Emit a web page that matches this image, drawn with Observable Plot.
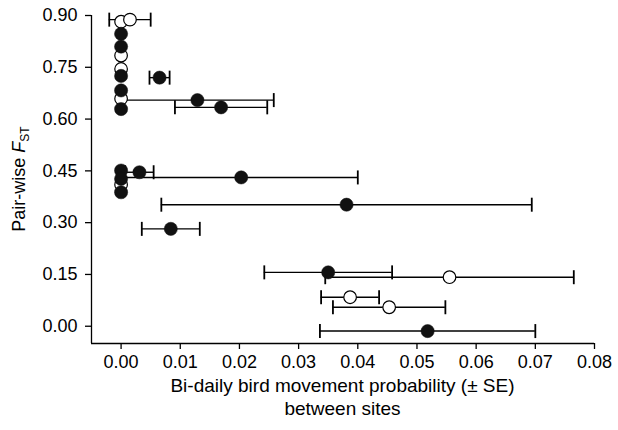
<!DOCTYPE html>
<html>
<head>
<meta charset="utf-8">
<script src="https://cdn.jsdelivr.net/npm/d3@7"></script>
<script src="https://cdn.jsdelivr.net/npm/@observablehq/plot@0.6"></script>
<style>
  html, body { margin: 0; padding: 0; background: #fff; }
  #chart svg { display: block; }
</style>
</head>
<body>
<div id="chart"></div>
<script>
// Movement probability (x), pair-wise FST (y), standard error, marker type
const prob   = [0, 0, 0, 0, 0, 0.0065, 0.0129, 0.0169, 0, 0, 0.0031, 0.0203, 0, 0.0381, 0.0084, 0.0350, 0.0518,
                0, 0.0015, 0, 0, 0, 0, 0.0555, 0.0387, 0.0453];
const fst    = [0.847, 0.810, 0.725, 0.683, 0.629, 0.720, 0.655, 0.634, 0.451, 0.427, 0.446, 0.431, 0.388, 0.352, 0.282, 0.156, -0.014,
                0.882, 0.888, 0.784, 0.745, 0.659, 0.410, 0.142, 0.084, 0.055];
const se     = [0, 0, 0, 0, 0, 0.0017, 0.0129, 0.0078, 0, 0, 0.0024, 0.0197, 0, 0.0313, 0.0049, 0.0108, 0.0182,
                0, 0.0035, 0, 0, 0, 0, 0.0210, 0.0049, 0.0095];
const marker = ["filled","filled","filled","filled","filled","filled","filled","filled","filled","filled","filled","filled","filled","filled","filled","filled","filled",
                "open","open","open","open","open","open","open","open","open"];

const xTicks = [0, 0.01, 0.02, 0.03, 0.04, 0.05, 0.06, 0.07, 0.08];
const yTicks = [0, 0.15, 0.30, 0.45, 0.60, 0.75, 0.90];
const xLabel = ["Bi-daily bird movement probability (± SE)", "between sites"];

const rows = prob.map((p, i) => ({x: p, y: fst[i], se: se[i], lo: p - se[i], hi: p + se[i], type: marker[i]}));
const bars = rows.filter(d => d.se > 0);
const capSymbol = {draw(ctx, size) { ctx.moveTo(0, -7); ctx.lineTo(0, 7); }};

const plot = Plot.plot({
  width: 618,
  height: 430,
  marginLeft: 91,
  marginRight: 24,
  marginTop: 15,
  marginBottom: 87,
  style: {fontFamily: "'Liberation Sans', Arial, Helvetica, sans-serif", fontSize: "18px", color: "#000", background: "#fff"},
  x: {domain: [-0.005, 0.08]},
  y: {domain: [-0.05, 0.90]},
  marks: [
    Plot.ruleX([-0.005], {stroke: "#000", strokeWidth: 1.3}),
    Plot.ruleY([-0.05], {stroke: "#000", strokeWidth: 1.3}),
    Plot.axisX({ticks: xTicks, tickFormat: d3.format(".2f"), tickSize: 6, tickPadding: 6, label: null, strokeWidth: 1.3}),
    Plot.axisY({ticks: yTicks, tickFormat: d3.format(".2f"), tickSize: 6, tickPadding: 8, label: null, strokeWidth: 1.3}),
    Plot.ruleY(bars, {x1: "lo", x2: "hi", y: "y", stroke: "#000", strokeWidth: 1.4}),
    Plot.dot(bars, {x: "lo", y: "y", symbol: capSymbol, stroke: "#000", strokeWidth: 1.8, r: 7}),
    Plot.dot(bars, {x: "hi", y: "y", symbol: capSymbol, stroke: "#000", strokeWidth: 1.8, r: 7}),
    Plot.dot(rows.filter(d => d.type === "open"), {x: "x", y: "y", r: 6.3, fill: "#fff", stroke: "#000", strokeWidth: 1.2}),
    Plot.dot(rows.filter(d => d.type === "filled"), {x: "x", y: "y", r: 6.6, fill: "#111", stroke: "#111", strokeWidth: 0.5})
  ]
});

const svg = d3.select(plot);
const yl = svg.append("text")
  .attr("transform", "translate(25,179) rotate(-90)")
  .attr("text-anchor", "middle")
  .attr("fill", "#000")
  .style("font-size", "18px");
yl.append("tspan").text("Pair-wise ");
yl.append("tspan").attr("font-style", "italic").text("F");
yl.append("tspan").attr("font-size", "12px").attr("dy", "4").text("ST");

xLabel.forEach((t, i) => {
  svg.append("text")
    .attr("x", (91 + 594) / 2)
    .attr("y", 392 + i * 23)
    .attr("text-anchor", "middle")
    .attr("fill", "#000")
    .style("font-size", "19px")
    .text(t);
});

document.getElementById("chart").appendChild(plot);
</script>
</body>
</html>
